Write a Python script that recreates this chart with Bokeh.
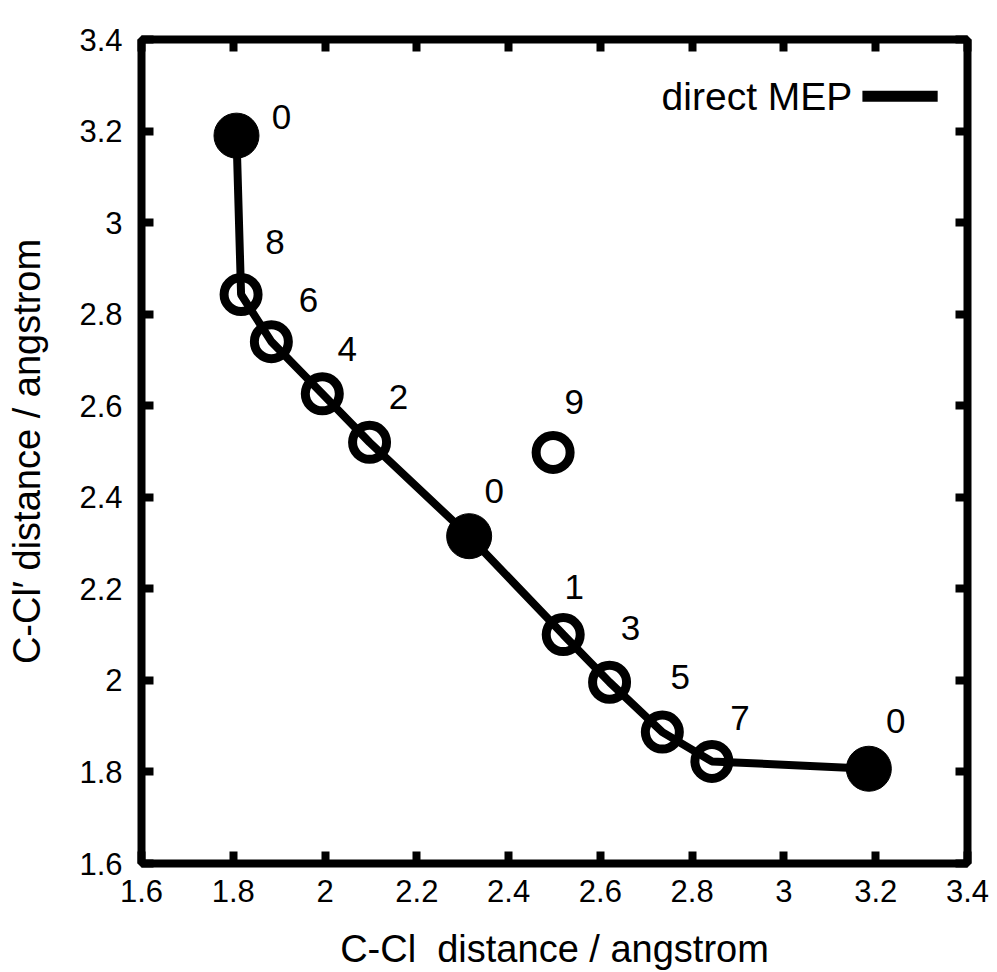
from bokeh.plotting import figure
from bokeh.models import (ColumnDataSource, FixedTicker, LinearAxis, Label,
                          CustomJSTickFormatter, Range1d)
from bokeh.core.properties import value
from bokeh.embed import file_html
from bokeh.resources import INLINE

# ---------------- data ----------------
path_labels = ["0", "8", "6", "4", "2", "0", "1", "3", "5", "7", "0"]
path_x = [1.807, 1.817, 1.883, 1.994, 2.097, 2.314, 2.519, 2.620, 2.735, 2.843, 3.185]
path_y = [3.190, 2.843, 2.740, 2.626, 2.520, 2.315, 2.100, 1.996, 1.887, 1.823, 1.807]
path_filled = [True, False, False, False, False, True, False, False, False, False, True]

extra_labels = ["9"]
extra_x = [2.497]
extra_y = [2.498]

x_ticks = [1.6, 1.8, 2.0, 2.2, 2.4, 2.6, 2.8, 3.0, 3.2, 3.4]
x_tick_labels = ["1.6", "1.8", "2", "2.2", "2.4", "2.6", "2.8", "3", "3.2", "3.4"]
y_ticks = [1.6, 1.8, 2.0, 2.2, 2.4, 2.6, 2.8, 3.0, 3.2, 3.4]
y_tick_labels = ["1.6", "1.8", "2", "2.2", "2.4", "2.6", "2.8", "3", "3.2", "3.4"]

x_title = "C-Cl\u00a0 distance / angstrom"
y_title = "C-Cl\u2032 distance / angstrom"
legend_label = "direct MEP"

# label placement (screen px offsets, styling only)
path_label_dx = [45, 34, 37, 25, 29, 25, 11, 21, 18, 28, 27]
path_label_dy = [-19, -52, -42, -45, -45, -45, -48, -54, -55, -43, -48]
extra_label_dx = [21]
extra_label_dy = [-50]

FONT = "Liberation Sans"

# ---------------- figure ----------------
p = figure(width=997, height=972, output_backend="svg", toolbar_location=None,
           x_range=Range1d(1.6, 3.4), y_range=Range1d(1.6, 3.4),
           frame_width=826, frame_height=824,
           min_border_left=141, min_border_right=30,
           min_border_top=39, min_border_bottom=109)
p.grid.visible = False
p.background_fill_color = "white"
p.border_fill_color = "white"
p.outline_line_color = "black"
p.outline_line_width = 8

fmt = CustomJSTickFormatter(code="return String(Number(tick.toFixed(4)))")

for ax, ticks, labels in ((p.xaxis[0], x_ticks, x_tick_labels),
                          (p.yaxis[0], y_ticks, y_tick_labels)):
    ax.ticker = FixedTicker(ticks=ticks)
    ax.formatter = fmt
    ax.major_label_overrides = dict(zip(ticks, labels))
    ax.axis_line_color = "black"
    ax.axis_line_width = 7
    ax.major_tick_in = 12
    ax.major_tick_out = 0
    ax.major_tick_line_width = 8
    ax.minor_tick_line_color = None
    ax.major_label_text_font = FONT
    ax.major_label_text_font_size = "31px"
    ax.major_label_text_color = "black"
    ax.axis_label_text_font = FONT
    ax.axis_label_text_font_size = "38px"
    ax.axis_label_text_font_style = "normal"
    ax.axis_label_text_color = "black"

p.xaxis[0].axis_label = x_title
p.yaxis[0].axis_label = y_title
p.xaxis[0].major_label_standoff = 16
p.xaxis[0].axis_label_standoff = 23
p.yaxis[0].major_label_standoff = 19
p.yaxis[0].axis_label_standoff = 28

# mirrored tick marks on top and right
for side, ticks in (("above", x_ticks), ("right", y_ticks)):
    ax = LinearAxis(ticker=FixedTicker(ticks=ticks),
                    formatter=CustomJSTickFormatter(code="return ''"),
                    axis_line_color=None, major_tick_in=12, major_tick_out=0,
                    major_tick_line_width=8, major_tick_line_color="black",
                    minor_tick_line_color=None, major_label_standoff=0,
                    major_label_text_font_size="1px")
    p.add_layout(ax, side)

# ---------------- glyphs ----------------
p.line(path_x, path_y, line_color="black", line_width=8)

fx = [x for x, f in zip(path_x, path_filled) if f]
fy = [y for y, f in zip(path_y, path_filled) if f]
ox = [x for x, f in zip(path_x, path_filled) if not f] + extra_x
oy = [y for y, f in zip(path_y, path_filled) if not f] + extra_y

p.scatter(fx, fy, marker="circle", size=45, fill_color="black", line_color="black")
p.scatter(ox, oy, marker="circle", size=34, fill_color=None, line_color="black",
          line_width=9)

lab_src = ColumnDataSource(dict(
    x=path_x + extra_x, y=path_y + extra_y,
    t=path_labels + extra_labels,
    dx=path_label_dx + extra_label_dx, dy=path_label_dy + extra_label_dy))
p.text(x="x", y="y", text="t", x_offset="dx", y_offset="dy", source=lab_src,
       text_font=value(FONT), text_font_size="35px", text_color="black",
       text_align="center", text_baseline="middle")

# ---------------- legend (text left of line sample) ----------------
LEG_TEXT_X = 3.149
LEG_Y = 3.276
LEG_LINE_X0 = 3.171
LEG_LINE_X1 = 3.335
p.add_layout(Label(x=LEG_TEXT_X, y=LEG_Y, text=legend_label, text_font=FONT,
                   text_font_size="39px", text_color="black",
                   text_align="right", text_baseline="middle"))
p.line([LEG_LINE_X0, LEG_LINE_X1], [LEG_Y, LEG_Y], line_color="black", line_width=11)

open("out.html", "w").write(file_html(p, INLINE))
